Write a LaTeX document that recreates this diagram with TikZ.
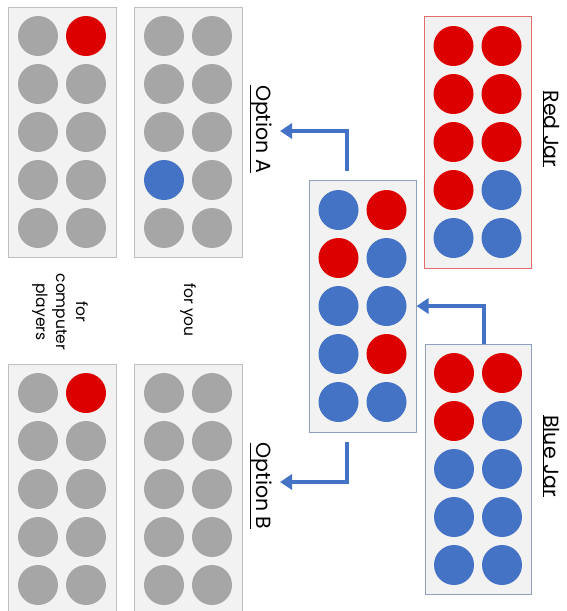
\documentclass[tikz,border=0pt]{standalone}
\usepackage{fontspec}
\setmainfont{Poppins}
\usetikzlibrary{arrows.meta,calc}
\definecolor{ballred}{HTML}{DD0000}
\definecolor{ballblue}{HTML}{4472C4}
\definecolor{ballgray}{HTML}{A6A6A6}
\definecolor{boxfill}{HTML}{F2F2F2}
\definecolor{panelgray}{HTML}{BFBFBF}
\definecolor{panelblue}{HTML}{8EA0BE}
\definecolor{panelred}{HTML}{E46C6C}
\tikzset{
  ball/.style={circle, minimum size=40pt, inner sep=0pt, fill=#1},
  panel/.style={draw=panelgray, fill=boxfill, minimum width=108pt, minimum height=250pt, inner sep=0pt, line width=1pt},
  flow/.style={draw=ballblue, line width=4pt, -{Triangle[length=12pt,width=15pt]}},
  lbl/.style={rotate=-90, font=\fontsize{20.5}{24}\selectfont, inner sep=0pt},
  small/.style={rotate=-90, font=\fontsize{15.5}{20}\selectfont, inner sep=0pt, align=center}
}
\newcommand\fillballs[2]{%
  \foreach \c [count=\i from 0] in {#2} {
    \pgfmathtruncatemacro\row{int(\i/2)}
    \pgfmathtruncatemacro\col{mod(\i,2)}
    \node[ball=\c] (#1-\i) at ($(#1.center)+(-24+48*\col,-96+48*\row)$) {};
  }%
}
\begin{document}
\begin{tikzpicture}[x=1pt,y=-1pt]
\useasboundingbox (0,0) rectangle (566,611);
% top row (Option A)
\node[panel] (compA) at (62,132) {};
\fillballs{compA}{ballgray,ballred,ballgray,ballgray,ballgray,ballgray,ballgray,ballgray,ballgray,ballgray}
\node[panel] (youA) at (188,132) {};
\fillballs{youA}{ballgray,ballgray,ballgray,ballgray,ballgray,ballgray,ballblue,ballgray,ballgray,ballgray}
% bottom row (Option B)
\node[panel] (compB) at (62,489) {};
\fillballs{compB}{ballgray,ballred,ballgray,ballgray,ballgray,ballgray,ballgray,ballgray,ballgray,ballgray}
\node[panel] (youB) at (188,489) {};
\fillballs{youB}{ballgray,ballgray,ballgray,ballgray,ballgray,ballgray,ballgray,ballgray,ballgray,ballgray}
% middle jar
\node[panel, draw=panelblue, minimum height=252pt, minimum width=107pt] (mid) at (362.5,306) {};
\fillballs{mid}{ballblue,ballred,ballred,ballblue,ballblue,ballblue,ballblue,ballred,ballblue,ballblue}
% red jar
\node[panel, draw=panelred, minimum height=252pt, minimum width=107pt] (redjar) at (477.5,142) {};
\fillballs{redjar}{ballred,ballred,ballred,ballred,ballred,ballred,ballred,ballblue,ballblue,ballblue}
% blue jar
\node[panel, draw=panelblue, minimum height=250pt, minimum width=106pt] (bluejar) at (478,469) {};
\fillballs{bluejar}{ballred,ballred,ballred,ballblue,ballblue,ballblue,ballblue,ballblue,ballblue,ballblue}
% labels
\node[lbl] (labA) at (261,129) {\underline{Option A}};
\node[lbl] (labB) at (261,486) {\underline{Option B}};
\node[lbl] (labR) at (551,129) {\underline{Red Jar}};
\node[lbl] (labBl) at (551,456) {\underline{Blue Jar}};
\node[small] (labYou) at (188,310) {for you};
\node[small] (labComp) at (60,312) {for\\computer\\players};
% arrows
\coordinate (aStart) at (347,171);
\coordinate (aEnd) at (280,131);
\coordinate (bStart) at (347,442);
\coordinate (bEnd) at (280,482);
\coordinate (jOut) at (484,344);
\draw[flow] (aStart) |- (aEnd);
\draw[flow] (bStart) |- (bEnd);
\draw[flow] (jOut) |- (mid.east);
\end{tikzpicture}
\end{document}
